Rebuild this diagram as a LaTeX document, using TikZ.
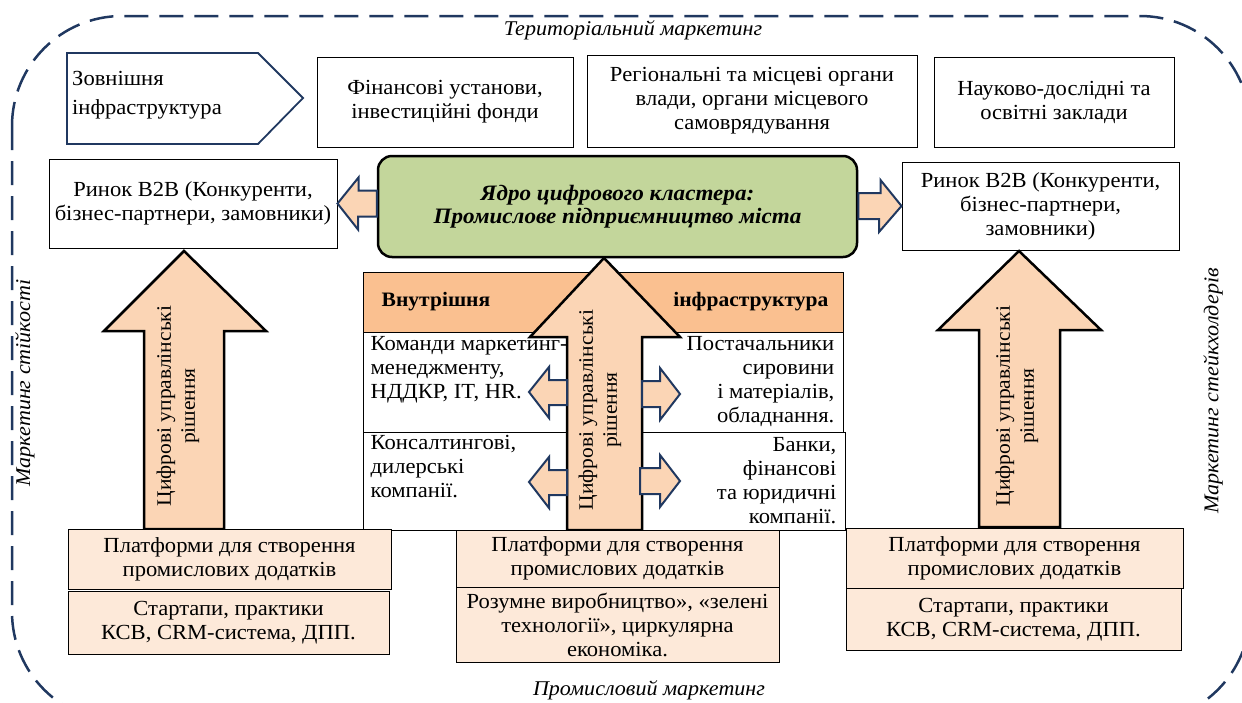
\documentclass[tikz,border=0pt]{standalone}
\usepackage{fontspec}
\setmainfont{Liberation Serif}[FakeStretch=1.05]
\usepackage{tikz}
\usetikzlibrary{calc}
\usetikzlibrary{positioning}

\definecolor{navy}{RGB}{32,56,96}
\definecolor{peach}{RGB}{251,213,181}
\definecolor{orng}{RGB}{250,192,144}
\definecolor{pale}{RGB}{253,233,217}
\definecolor{olive}{RGB}{195,214,155}

\tikzset{
  frame/.style={draw=navy, line width=2.5pt, dash pattern=on 24pt off 11pt, rounded corners=110pt},
  lbl/.style={inner sep=0pt, font=\fontsize{21}{24}\selectfont\itshape},
  box/.style={draw, line width=1pt, align=center, inner sep=0pt, font=\fontsize{21.5}{24}\selectfont},
  core/.style={box, fill=olive, line width=2.5pt, rounded corners=14pt, font=\fontsize{22}{23.5}\selectfont\bfseries\itshape},
  cell/.style={draw, line width=1pt, inner sep=0pt},
  hdr/.style={cell, fill=orng},
  pbox/.style={box, fill=pale},
  txt/.style={inner sep=0pt, font=\fontsize{21.5}{24}\selectfont},
  bigarrow/.style={draw=black, fill=peach, line width=2.5pt},
  sarrow/.style={draw=navy, fill=peach, line width=2pt},
  vtxt/.style={rotate=90, align=center, inner sep=0pt, font=\fontsize{20.5}{24}\selectfont}
}

\begin{document}
\begin{tikzpicture}[x=1pt,y=-1pt]
\useasboundingbox (0,0) rectangle (1242,702);

% outer frame
\begin{scope}
\clip (0,0) rectangle (1242,702);
\draw[frame] (12,16) rectangle (1250,722);
\end{scope}

\draw (633,30) node[lbl] (terr) {Територіальний маркетинг};
\draw (649,690) node[lbl] (prom) {Промисловий маркетинг};
\draw (25,383) node[lbl, rotate=90] (stiy) {Маркетинг стійкості};
\draw (1213,391) node[lbl, rotate=90] (steik) {Маркетинг стейкхолдерів};

% top row
\draw[draw=navy, line width=1.8pt] (67,53) -- (258,53) -- (303,98) -- (258,144) -- (67,144) -- cycle;
\draw (72,95) node[txt, anchor=west, align=left, font=\fontsize{21.5}{29}\selectfont] (ext) {Зовнішня\\інфраструктура};
\draw (445,102) node[box, minimum width=256pt, minimum height=90pt] (fin) {Фінансові установи,\\інвестиційні фонди};
\draw (752,101) node[box, minimum width=330pt, minimum height=92pt] (reg) {Регіональні та місцеві органи\\влади, органи місцевого\\самоврядування};
\draw (1054,102) node[box, minimum width=240pt, minimum height=90pt] (sci) {Науково-дослідні та\\освітні заклади};

% second row
\draw (193,203.5) node[box, minimum width=288pt, minimum height=89pt] (bL) {Ринок B2B (Конкуренти,\\бізнес-партнери, замовники)};
\draw (617.5,206.5) node[core, minimum width=479pt, minimum height=101pt] (core) {Ядро цифрового кластера:\\Промислове підприємництво міста};
\draw (1040.5,206) node[box, minimum width=277pt, minimum height=88pt] (bR) {Ринок B2B (Конкуренти,\\бізнес-партнери,\\замовники)};

\draw[sarrow] (bL.east) -- ++(21,-26) -- ++(0,13) coordinate (a1) -- (a1 -| core.west) -- ++(0,26) coordinate (a2) -- (a2 -| 358,0) -- ++(0,13) -- cycle;
\draw[sarrow] (bR.west) -- ++(-21,-26) -- ++(0,13) coordinate (a3) -- (a3 -| core.east) -- ++(0,26) coordinate (a4) -- (a4 -| 879,0) -- ++(0,13) -- cycle;

% inner infrastructure
\draw (603,302) node[hdr, minimum width=480pt, minimum height=60pt] (hdr) {};
\draw (hdr.west) ++(19,0) node[txt, anchor=west, font=\fontsize{20.5}{24}\selectfont\bfseries] (hin) {Внутрішня};
\draw (hdr.east) ++(-15,0) node[txt, anchor=east, font=\fontsize{20.5}{24}\selectfont\bfseries] (hinf) {інфраструктура};
\draw (483,382) node[cell, minimum width=240pt, minimum height=100pt] (c11) {};
\draw (723,382) node[cell, minimum width=240pt, minimum height=100pt] (c12) {};
\draw (483,481) node[cell, minimum width=240pt, minimum height=98pt] (c21) {};
\draw (724,481) node[cell, minimum width=242pt, minimum height=98pt] (c22) {};
\draw (c11.north west) ++(8,5) node[txt, anchor=north west, align=left] (t11) {Команди маркетинг-\\менеджменту,\\НДДКР, IT, HR.};
\draw (c21.north west) ++(8,4) node[txt, anchor=north west, align=left] (t21) {Консалтингові,\\дилерські\\компанії.};
\draw (c12.east) ++(-9,0) node[txt, anchor=east, align=right] (t12) {Постачальники\\сировини\\і матеріалів,\\обладнання.};
\draw (c22.east) ++(-9,0) node[txt, anchor=east, align=right] (t22) {Банки,\\фінансові\\та юридичні\\компанії.};

% big arrows
\draw[bigarrow] (184,251) -- (266,331) -- (224,331) -- (224,529) -- (144,529) -- (144,331) -- (104,331) -- cycle;
\draw[bigarrow] (604,258) -- (680,337) -- (642,337) -- (642,530) -- (567,530) -- (567,337) -- (530,337) -- cycle;
\draw[bigarrow] (1019,251) -- (1101,330) -- (1060,330) -- (1060,527) -- (979,527) -- (979,330) -- (938,330) -- cycle;
\draw (178,406) node[vtxt] (dL) {Цифрові управлінські\\рішення};
\draw (600,410) node[vtxt] (dM) {Цифрові управлінські\\рішення};
\draw (1017,406) node[vtxt] (dR) {Цифрові управлінські\\рішення};

% arrows inside
\draw[sarrow] (529,392) -- (549,367) -- (549,380) -- (567,380) -- (567,405) -- (549,405) -- (549,418) -- cycle;
\draw[sarrow] (529,482) -- (549,457) -- (549,470) -- (567,470) -- (567,495) -- (549,495) -- (549,508) -- cycle;
\draw[sarrow] (680,394) -- (660,368) -- (660,381) -- (642,381) -- (642,407) -- (660,407) -- (660,420) -- cycle;
\draw[sarrow] (680,481) -- (660,455) -- (660,468) -- (640,468) -- (640,494) -- (660,494) -- (660,507) -- cycle;

% bottom
\draw (229.5,559) node[pbox, minimum width=323pt, minimum height=60pt] (pL) {Платформи для створення\\промислових додатків};
\draw (228.5,622.5) node[pbox, minimum width=321pt, minimum height=63pt] (sL) {Стартапи, практики\\КСВ, CRM-система, ДПП.};
\draw (617.5,558.5) node[pbox, minimum width=323pt, minimum height=57pt] (pM) {Платформи для створення\\промислових додатків};
\draw (617.5,624.5) node[pbox, minimum width=323pt, minimum height=75pt] (sM) {Розумне виробництво», «зелені\\технології», циркулярна\\економіка.};
\draw (1014.5,558) node[pbox, minimum width=337pt, minimum height=60pt] (pR) {Платформи для створення\\промислових додатків};
\draw (1013.5,619.5) node[pbox, minimum width=335pt, minimum height=62pt] (sR) {Стартапи, практики\\КСВ, CRM-система, ДПП.};

\end{tikzpicture}
\end{document}
